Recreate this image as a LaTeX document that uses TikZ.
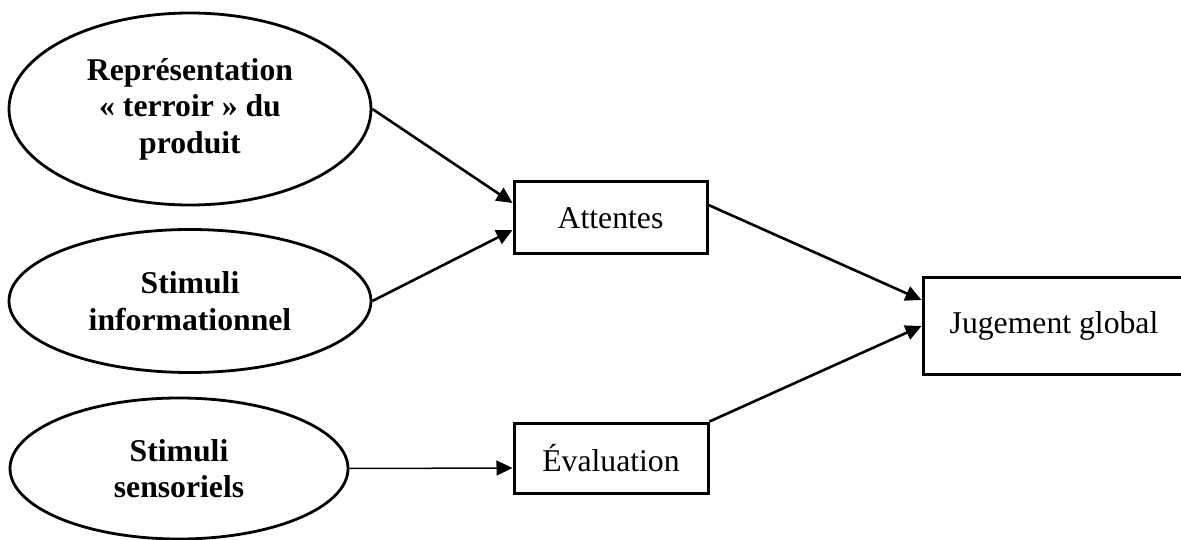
\documentclass[tikz,border=0pt]{standalone}
\usepackage{fontspec}
\setmainfont{Liberation Serif}
\usetikzlibrary{shapes.geometric,arrows.meta}
\begin{document}
\begin{tikzpicture}[x=1pt,y=-1pt,
  txt/.style={font=\fontsize{31.7}{36.5}\selectfont, align=center, inner sep=0pt},
  oval/.style={txt, ellipse, draw, line width=2.8pt, font=\fontsize{31.7}{36.5}\selectfont\bfseries},
  box/.style={txt, draw, line width=3pt},
  conn/.style={line width=2.6pt, -{Triangle[length=16pt,width=15pt]}},
  thinconn/.style={line width=1.5pt, -{Triangle[length=16pt,width=15pt]}}]
\useasboundingbox (0,0) rectangle (1181,540);
\node[oval, minimum width=362pt, minimum height=192pt] (e1) at (190,109) {Représentation\\« terroir » du\\produit};
\node[oval, minimum width=362pt, minimum height=143pt] (e2) at (190,301) {Stimuli\\informationnel};
\node[oval, minimum width=338pt, minimum height=141pt] (e3) at (179,468.5) {Stimuli\\sensoriels};
\node[box, minimum width=193pt, minimum height=72pt] (att) at (610.5,218) {Attentes};
\node[box, minimum width=194pt, minimum height=70pt] (eva) at (611,458) {Évaluation};
\node[box, minimum width=262pt, minimum height=97pt] (jug) at (1054,325.5) {Jugement global};
\draw[conn] (e1.east) -- ([yshift=15pt]att.west);
\draw[conn] (e2.east) -- ([yshift=-12pt]att.west);
\draw[thinconn] (e3.east) -- ([yshift=-10pt]eva.west);
\draw[conn] ([yshift=13pt]att.east) -- ([yshift=25.5pt]jug.west);
\draw[conn] (eva.north east) -- ([yshift=-0.5pt]jug.west);
\end{tikzpicture}
\end{document}
